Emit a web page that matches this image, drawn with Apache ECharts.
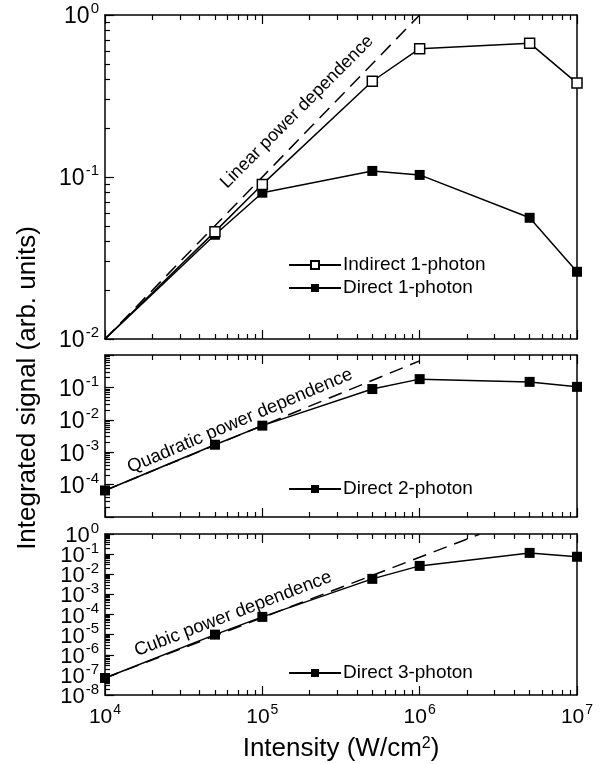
<!DOCTYPE html>
<html>
<head>
<meta charset="utf-8">
<script src="https://cdn.jsdelivr.net/npm/echarts@6/dist/echarts.min.js"></script>
<style>
  html, body { margin: 0; padding: 0; background: #fff; }
  #plot { width: 602px; height: 764px; }
</style>
</head>
<body>
<div id="plot"></div>
<script>
// intensity in W/cm^2
const intensity = [1e4, 5e4, 1e5, 5e5, 1e6, 5e6, 1e7];
const indirect1 = [0.01, 0.046, 0.090, 0.39, 0.62, 0.67, 0.38];
const direct1 = [0.01, 0.044, 0.080, 0.109, 0.103, 0.056, 0.026];
const direct2 = [6.6e-5, 1.7e-3, 6.6e-3, 0.089, 0.18, 0.148, 0.104];
const direct3 = [7e-8, 1.0e-5, 7.6e-5, 5.9e-3, 2.6e-2, 0.115, 0.074];

// power-law guide lines (end points)
const linearX = [1e4, 1e6], linearY = [0.01, 1];
const quadX = [1e4, 1e6], quadY = [6.6e-5, 0.66];
const cubicX = [1e4, 2.4e6], cubicY = [7e-8, 0.97];

const xDecades = [1e4, 1e5, 1e6, 1e7];
const yDecades1 = [1e-2, 1e-1, 1];
const yDecades2 = [1e-5, 1e-4, 1e-3, 1e-2, 1e-1, 1];
const yDecades3 = [1e-8, 1e-7, 1e-6, 1e-5, 1e-4, 1e-3, 1e-2, 1e-1, 1];
const yLabels2 = [1e-4, 1e-3, 1e-2, 1e-1];

const FONT = 'Liberation Sans, Arial, sans-serif';

function minorTicks(decades) {
  const out = [];
  for (let i = 0; i < decades.length - 1; i++) {
    for (let k = 2; k <= 9; k++) out.push(decades[i] * k);
  }
  return out;
}

function supLabel(v) {
  return '{b|10}{s|' + Math.round(Math.log10(v)) + '}';
}

function rich(size, sup) {
  return {
    b: { fontSize: size, fontFamily: FONT, color: '#000', lineHeight: size + 4, verticalAlign: 'bottom' },
    s: { fontSize: sup, fontFamily: FONT, color: '#000', verticalAlign: 'top', lineHeight: sup, padding: [0, 0, 0, 1] }
  };
}

const axisLine = { show: true, lineStyle: { color: '#000', width: 1.5 } };

const grids = [
  { left: 105, top: 15, width: 472, height: 324 },
  { left: 105, top: 355, width: 472, height: 162 },
  { left: 105, top: 534, width: 472, height: 161 }
];
const yRanges = [[1e-2, 1], [1e-5, 1], [1e-8, 1]];
const yDec = [yDecades1, yDecades2, yDecades3];
const yLab = [yDecades1, yLabels2, yDecades3];
const yFont = [23, 23, 22];

// the y labels are split over two stacked axes (every other decade) so the
// dense lower panel keeps all of them
const evenOnes = a => a.filter((_, k) => k % 2 === 0);
const oddOnes = a => a.filter((_, k) => k % 2 === 1);

const xAxes = [], yAxes = [];
grids.forEach((g, i) => {
  const last = i === grids.length - 1;
  ['bottom', 'top'].forEach(pos => {
    xAxes.push({
      gridIndex: i, type: 'log', min: 1e4, max: 1e7, position: pos,
      axisLine: axisLine,
      axisTick: { show: true, inside: true, length: 9, customValues: xDecades, lineStyle: { color: '#000', width: 1.2 } },
      axisLabel: {
        show: last && pos === 'bottom', customValues: xDecades, margin: 8,
        showMinLabel: true, showMaxLabel: true,
        formatter: supLabel, rich: rich(21, 14)
      },
      splitLine: { show: false },
      name: last && pos === 'bottom' ? 'Intensity (W/cm{s|2})' : '',
      nameLocation: 'middle', nameGap: 41,
      nameTextStyle: {
        fontSize: 26, fontFamily: FONT, color: '#000',
        rich: { s: { fontSize: 16, fontFamily: FONT, color: '#000', verticalAlign: 'top', lineHeight: 16 } }
      }
    });
    xAxes.push({
      gridIndex: i, type: 'log', min: 1e4, max: 1e7, position: pos,
      axisLine: { show: false },
      axisTick: { show: true, inside: true, length: 5, customValues: minorTicks(xDecades), lineStyle: { color: '#000', width: 1.2 } },
      axisLabel: { show: false },
      splitLine: { show: false }
    });
  });
  const [ymin, ymax] = yRanges[i];
  const labelBase = {
    show: true, margin: 6, hideOverlap: false, showMinLabel: true, showMaxLabel: true,
    formatter: supLabel, rich: rich(yFont[i], 15)
  };
  yAxes.push({
    gridIndex: i, type: 'log', min: ymin, max: ymax, position: 'left',
    axisLine: axisLine,
    axisTick: { show: true, inside: true, length: 9, customValues: yDec[i], lineStyle: { color: '#000', width: 1.2 } },
    axisLabel: Object.assign({ customValues: evenOnes(yLab[i]) }, labelBase),
    splitLine: { show: false }
  });
  yAxes.push({
    gridIndex: i, type: 'log', min: ymin, max: ymax, position: 'left',
    axisLine: { show: false },
    axisTick: { show: true, inside: true, length: 5, customValues: minorTicks(yDec[i]), lineStyle: { color: '#000', width: 1.2 } },
    axisLabel: Object.assign({ customValues: oddOnes(yLab[i]) }, labelBase),
    splitLine: { show: false }
  });
  yAxes.push({
    gridIndex: i, type: 'log', min: ymin, max: ymax, position: 'right',
    axisLine: axisLine, axisTick: { show: false }, axisLabel: { show: false }, splitLine: { show: false }
  });
});

function pairs(xs, ys, hideFirst) {
  return xs.map((x, i) => (hideFirst && i === 0) ? { value: [x, ys[i]], symbol: 'none' } : [x, ys[i]]);
}

function dataSeries(name, g, ys, open, hideFirst) {
  return {
    name: name, type: 'line', xAxisIndex: g * 4, yAxisIndex: g * 3,
    data: pairs(intensity, ys, hideFirst),
    symbol: 'rect', symbolSize: 10, clip: true,
    lineStyle: { color: '#000', width: 1.5 },
    itemStyle: open ? { color: '#fff', borderColor: '#000', borderWidth: 1.5 } : { color: '#000', borderColor: '#000', borderWidth: 0 },
    z: open ? 4 : 3
  };
}

function guideSeries(name, g, xs, ys) {
  return {
    name: name, type: 'line', xAxisIndex: g * 4, yAxisIndex: g * 3,
    data: pairs(xs, ys), symbol: 'none', clip: true,
    lineStyle: { color: '#000', width: 1.5, type: [14, 8] }, z: 2
  };
}

function note(text, x, y, deg, size) {
  return {
    type: 'text', x: x, y: y, rotation: deg * Math.PI / 180,
    style: { text: text, fontSize: size, fontFamily: FONT, fill: '#000', align: 'center', verticalAlign: 'middle' }
  };
}

function legend(names, top) {
  return {
    data: names, orient: 'vertical', left: 288, top: top, padding: 0,
    itemWidth: 52, itemHeight: 10, itemGap: 3,
    textStyle: { fontSize: 19, fontFamily: FONT, color: '#000', lineHeight: 20, padding: [0, 0, 0, -3] },
    selectedMode: false
  };
}

const chart = echarts.init(document.getElementById('plot'));
chart.setOption({
  animation: false,
  backgroundColor: '#fff',
  grid: grids,
  xAxis: xAxes,
  yAxis: yAxes,
  legend: [
    legend(['Indirect 1-photon', 'Direct 1-photon'], 255),
    legend(['Direct 2-photon'], 479),
    legend(['Direct 3-photon'], 663)
  ],
  graphic: [
    note('Integrated signal (arb. units)', 28, 388, 90, 26),
    note('Linear power dependence', 297, 112, 45, 18),
    note('Quadratic power dependence', 240, 421, 23, 18.5),
    note('Cubic power dependence', 233, 614, 21, 18.5)
  ],
  series: [
    guideSeries('Linear', 0, linearX, linearY),
    dataSeries('Indirect 1-photon', 0, indirect1, true, true),
    dataSeries('Direct 1-photon', 0, direct1, false, true),
    guideSeries('Quadratic', 1, quadX, quadY),
    dataSeries('Direct 2-photon', 1, direct2, false, false),
    guideSeries('Cubic', 2, cubicX, cubicY),
    dataSeries('Direct 3-photon', 2, direct3, false, false)
  ]
});
</script>
</body>
</html>
